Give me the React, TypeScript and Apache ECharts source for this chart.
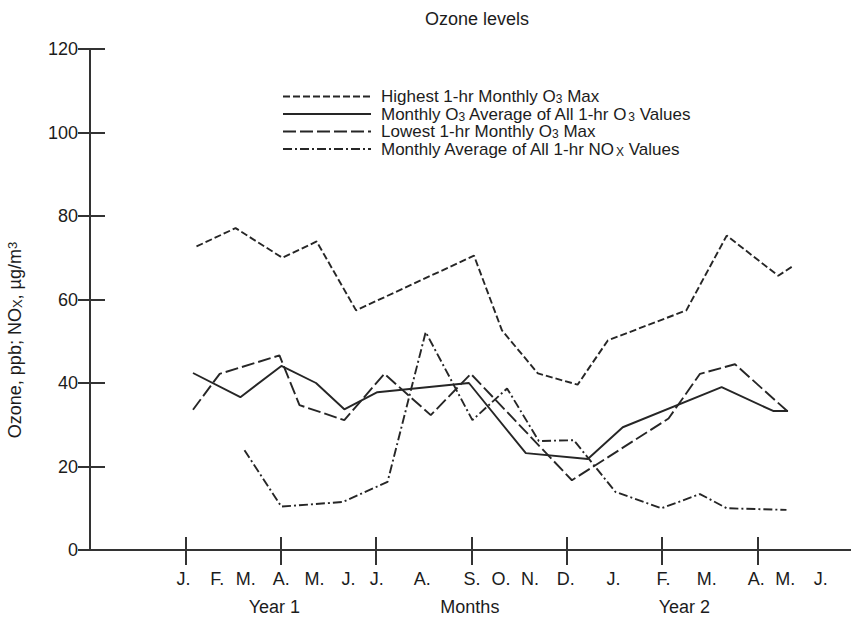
import React, { useEffect, useRef } from "react";
import * as echarts from "echarts";

// ---- data (x positions in month-axis units, y values in ppb / µg/m3) ----
const monthPos = [2.94, 4.0, 4.9, 6.02, 7.06, 8.13, 9.02, 10.45, 12.02, 12.93, 13.84, 14.97, 16.47, 18.04, 19.4, 20.96, 21.87, 22.99];
const monthLabels = ["J.", "F.", "M.", "A.", "M.", "J.", "J.", "A.", "S.", "O.", "N.", "D.", "J.", "F.", "M.", "A.", "M.", "J."];
const tickPos = [3, 6, 9, 12, 15, 18, 21];
const groupPos = [5.8, 11.95, 18.7];
const groupLabels = ["Year 1", "Months", "Year 2"];

const highestX = [3.35, 4.58, 6.05, 7.13, 8.37, 12.08, 12.96, 14.09, 15.34, 16.29, 18.76, 20.03, 21.65, 22.09];
const highestY = [72.7, 77.1, 70.0, 73.9, 57.4, 70.5, 52.6, 42.3, 39.6, 50.2, 57.4, 75.3, 65.7, 67.9];

const avgX = [3.24, 4.73, 6.02, 7.11, 8.0, 9.04, 11.92, 13.71, 15.66, 16.76, 19.87, 21.49, 21.96];
const avgY = [42.4, 36.6, 44.1, 40.0, 33.7, 37.8, 40.0, 23.2, 21.8, 29.4, 39.0, 33.3, 33.3];

const lowestX = [3.24, 4.08, 5.96, 6.59, 8.0, 9.26, 10.72, 11.98, 15.16, 18.2, 19.19, 20.29, 21.96];
const lowestY = [33.6, 42.2, 46.6, 34.7, 31.1, 42.2, 32.3, 42.2, 16.7, 31.5, 42.2, 44.5, 33.1];

const noxX = [4.86, 6.02, 7.95, 9.36, 10.56, 12.03, 13.12, 14.12, 15.22, 16.53, 17.98, 19.19, 20.03, 21.91];
const noxY = [23.9, 10.4, 11.5, 16.3, 52.2, 31.1, 38.7, 26.1, 26.3, 13.9, 10.0, 13.4, 10.0, 9.6];

const seriesNames = [
  "Highest 1-hr Monthly O3 Max",
  "Monthly O3 Average of All 1-hr O3 Values",
  "Lowest 1-hr Monthly O3 Max",
  "Monthly Average of All 1-hr NOX Values",
];
const legendRich: Record<string, string> = {
  "Highest 1-hr Monthly O3 Max": "{t|Highest 1-hr Monthly O}{s|3}{t| Max}",
  "Monthly O3 Average of All 1-hr O3 Values": "{t|Monthly O}{s|3}{t| Average of All 1-hr O}{s|3}{t| Values}",
  "Lowest 1-hr Monthly O3 Max": "{t|Lowest 1-hr Monthly O}{s|3}{t| Max}",
  "Monthly Average of All 1-hr NOX Values": "{t|Monthly Average of All 1-hr NO}{s|X}{t| Values}",
};

const XMAX = 23.94;
const FONT = "'Liberation Sans', Arial, Helvetica, sans-serif";
const INK = "#1c1c1c";
const LINE = "#262626";

const zip = (xs: number[], ys: number[]) => xs.map((x, i) => [x, ys[i]]);

export default function App() {
  const ref = useRef<HTMLDivElement>(null);
  useEffect(() => {
    if (!ref.current) return;
    const chart = echarts.init(ref.current, undefined, { renderer: "svg" });
    const frame = { lineStyle: { color: "#333", width: 2 } };
    const mkLine = (name: string, xs: number[], ys: number[], type: any) => ({
      name,
      type: "line",
      xAxisIndex: 0,
      yAxisIndex: 0,
      data: zip(xs, ys),
      symbol: "none",
      showSymbol: false,
      lineStyle: { color: LINE, width: 1.9, type },
      itemStyle: { color: LINE },
    });
    chart.setOption({
      animation: false,
      backgroundColor: "#ffffff",
      textStyle: { fontFamily: FONT },
      title: {
        text: "Ozone levels",
        left: 472,
        textAlign: "center",
        top: 5,
        textStyle: { fontSize: 18, fontWeight: "normal", color: INK, fontFamily: FONT },
      },
      legend: {
        data: seriesNames,
        orient: "vertical",
        left: 282,
        top: 88,
        padding: 0,
        itemGap: 0.5,
        itemWidth: 88,
        itemHeight: 10,
        selectedMode: false,
        itemStyle: { opacity: 0, borderWidth: 0 },
        formatter: (n: string) => legendRich[n] || n,
        textStyle: {
          color: INK,
          fontSize: 17,
          fontFamily: FONT,
          padding: [0, 0, 0, 5],
          rich: {
            t: { fontSize: 17, lineHeight: 17, color: INK, fontFamily: FONT },
            s: { fontSize: 12, lineHeight: 9, verticalAlign: "bottom", color: INK, fontFamily: FONT },
          },
        },
      },
      grid: [
        { left: 90, top: 49, width: 763, height: 501 },
        { left: 90, top: 49, width: 763, height: 501 },
      ],
      xAxis: [
        {
          type: "value",
          gridIndex: 0,
          position: "bottom",
          min: 0,
          max: XMAX,
          axisLine: frame,
          splitLine: { show: false },
          axisTick: { show: true, inside: true, length: 13, customValues: tickPos, lineStyle: { color: "#333", width: 2 } },
          axisLabel: {
            customValues: monthPos,
            margin: 20,
            fontSize: 18,
            color: INK,
            fontFamily: FONT,
            formatter: (v: number) => {
              const i = monthPos.findIndex((p) => Math.abs(p - v) < 1e-6);
              return i >= 0 ? monthLabels[i] : "";
            },
          },
        },
        {
          type: "value",
          gridIndex: 0,
          position: "top",
          min: 0,
          max: XMAX,
          axisLine: frame,
          splitLine: { show: false },
          axisTick: { show: true, inside: true, length: 15, customValues: tickPos, lineStyle: { color: "#333", width: 2 } },
          axisLabel: { show: false },
        },
        {
          type: "value",
          gridIndex: 1,
          position: "bottom",
          min: 0,
          max: XMAX,
          axisLine: { show: false },
          splitLine: { show: false },
          axisTick: { show: false },
          axisLabel: {
            customValues: groupPos,
            margin: 48,
            fontSize: 18,
            color: INK,
            fontFamily: FONT,
            formatter: (v: number) => {
              const i = groupPos.findIndex((p) => Math.abs(p - v) < 1e-6);
              return i >= 0 ? groupLabels[i] : "";
            },
          },
        },
      ],
      yAxis: [
        {
          type: "value",
          gridIndex: 0,
          position: "left",
          min: 0,
          max: 120,
          interval: 20,
          axisLine: { show: true, ...frame },
          splitLine: { show: false },
          axisTick: { show: true, inside: true, length: 15, lineStyle: { color: "#333", width: 2 } },
          axisLabel: { margin: 12, fontSize: 18, color: INK, fontFamily: FONT, padding: [6, 0, 0, 0] },
        },
        {
          type: "value",
          gridIndex: 0,
          position: "right",
          min: 0,
          max: 120,
          interval: 20,
          axisLine: { show: true, ...frame },
          splitLine: { show: false },
          axisTick: { show: true, inside: true, length: 12, lineStyle: { color: "#333", width: 2 } },
          axisLabel: { show: false },
        },
        {
          type: "value",
          gridIndex: 1,
          min: 0,
          max: 120,
          show: false,
        },
      ],
      graphic: [
        {
          type: "text",
          x: 15,
          y: 340,
          rotation: Math.PI / 2,
          style: {
            text: "{t|Ozone, ppb; NO}{s|X}{t|, µg/m}{p|3}",
            align: "center",
            verticalAlign: "middle",
            fill: INK,
            rich: {
              t: { fontSize: 18, lineHeight: 18, fill: INK, fontFamily: FONT },
              s: { fontSize: 13, lineHeight: 4, verticalAlign: "bottom", fill: INK, fontFamily: FONT },
              p: { fontSize: 13, lineHeight: 4, verticalAlign: "top", fill: INK, fontFamily: FONT },
            },
          },
        },
      ],
      series: [
        mkLine(seriesNames[0], highestX, highestY, [7, 3]),
        mkLine(seriesNames[1], avgX, avgY, "solid"),
        mkLine(seriesNames[2], lowestX, lowestY, [13, 4]),
        mkLine(seriesNames[3], noxX, noxY, [9, 3, 2, 3]),
      ],
    });
    return () => chart.dispose();
  }, []);
  return (
    <div
      ref={ref}
      style={{ position: "absolute", left: 0, top: 0, width: 851, height: 618, background: "#fff" }}
    />
  );
}
